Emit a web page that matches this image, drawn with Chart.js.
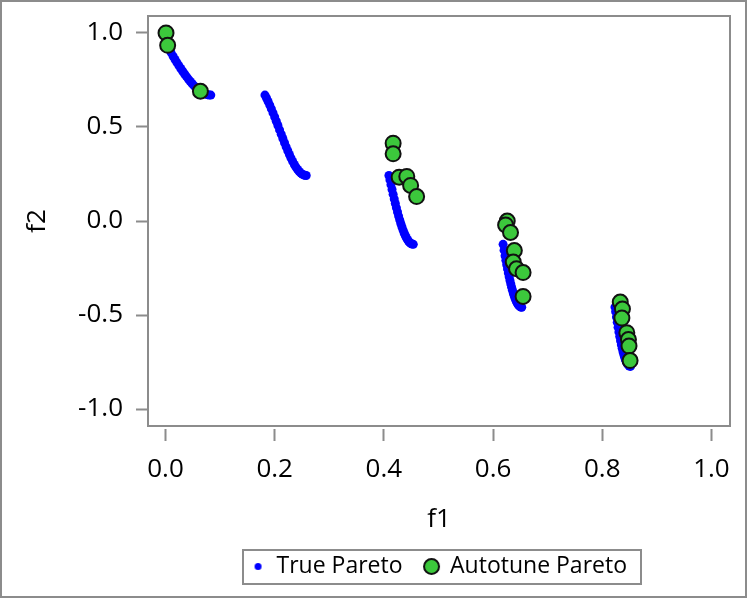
<!DOCTYPE html>
<html>
<head>
<meta charset="utf-8">
<script src="https://cdn.jsdelivr.net/npm/chart.js@4.4.0/dist/chart.umd.min.js"></script>
<style>
  html, body { margin: 0; padding: 0; background: #fff; }
  #wrap { width: 747px; height: 598px; box-sizing: border-box; border: 2px solid #8c8c8c; }
  canvas { display: block; }
</style>
</head>
<body>
<div id="wrap"><canvas id="myChart" width="743" height="594"></canvas></div>
<script>
  // true Pareto front
  var trueF1 = [
    0, 0.002, 0.004, 0.007, 0.010, 0.014, 0.0175, 0.021, 0.0245, 0.028, 0.0315, 0.035, 0.0385, 0.042, 0.0455, 0.049, 0.0525, 0.056, 0.0595, 0.063, 0.0665, 0.070, 0.0735, 0.077, 0.080, 0.083,
    0.1822, 0.185, 0.188, 0.191, 0.194, 0.197, 0.200, 0.203, 0.206, 0.209, 0.212, 0.215, 0.218, 0.221, 0.224, 0.227, 0.230, 0.233, 0.236, 0.239, 0.242, 0.245, 0.248, 0.2505, 0.253, 0.2555, 0.2578,
    0.4093, 0.4111, 0.413, 0.415, 0.417, 0.419, 0.421, 0.423, 0.425, 0.427, 0.429, 0.431, 0.433, 0.435, 0.437, 0.439, 0.441, 0.443, 0.445, 0.447, 0.449, 0.4515, 0.4539,
    0.6184, 0.6202, 0.622, 0.6235, 0.625, 0.6265, 0.628, 0.6295, 0.631, 0.6325, 0.634, 0.6355, 0.637, 0.6385, 0.640, 0.6415, 0.643, 0.6445, 0.646, 0.6475, 0.649, 0.6508, 0.6525,
    0.8233, 0.8245, 0.826, 0.8275, 0.829, 0.8305, 0.832, 0.8335, 0.835, 0.8365, 0.838, 0.8395, 0.841, 0.8425, 0.844, 0.8455, 0.847, 0.8494, 0.8518
  ];
  var trueF2 = [
    1.0, 0.9552, 0.9363, 0.9148, 0.8969, 0.8757, 0.8586, 0.8422, 0.8264, 0.8111, 0.7962, 0.7817, 0.7678, 0.7544, 0.7417, 0.7296, 0.7185, 0.7084, 0.6992, 0.6912, 0.6844, 0.6788, 0.6745, 0.6716, 0.6701, 0.6696,
    0.6693, 0.6539, 0.6356, 0.6163, 0.5959, 0.5747, 0.5528, 0.5303, 0.5075, 0.4845, 0.4616, 0.4387, 0.4163, 0.3944, 0.3734, 0.3533, 0.3343, 0.3168, 0.3007, 0.2862, 0.2737, 0.2630, 0.2545, 0.2490, 0.2451, 0.2428, 0.2422,
    0.2422, 0.2184, 0.1933, 0.1674, 0.1419, 0.1172, 0.0932, 0.0699, 0.0476, 0.0262, 0.0060, -0.0130, -0.0307, -0.0471, -0.0622, -0.0757, -0.0876, -0.0979, -0.1066, -0.1136, -0.1189, -0.1229, -0.1242,
    -0.1241, -0.1552, -0.1852, -0.2092, -0.2325, -0.2549, -0.2764, -0.2968, -0.3163, -0.3346, -0.3518, -0.3679, -0.3827, -0.3963, -0.4087, -0.4197, -0.4294, -0.4376, -0.4446, -0.4502, -0.4543, -0.4573, -0.4583,
    -0.4578, -0.4820, -0.5110, -0.5389, -0.5656, -0.5907, -0.6146, -0.6370, -0.6578, -0.6770, -0.6946, -0.7104, -0.7247, -0.7371, -0.7478, -0.7565, -0.7636, -0.7708, -0.7733
  ];

  // Autotune Pareto points (green circles)
  var autoF1 = [0.001, 0.004, 0.064, 0.417, 0.417, 0.428, 0.442, 0.449, 0.460, 0.626, 0.623, 0.632, 0.639, 0.637, 0.643, 0.655, 0.655, 0.833, 0.837, 0.836, 0.845, 0.848, 0.849, 0.851];
  var autoF2 = [1.0, 0.934, 0.690, 0.414, 0.357, 0.233, 0.237, 0.189, 0.130, 0.0, -0.021, -0.061, -0.157, -0.218, -0.254, -0.274, -0.401, -0.431, -0.468, -0.516, -0.594, -0.630, -0.665, -0.742];

  var xTicks = [0, 0.2, 0.4, 0.6, 0.8, 1.0];
  var yTicks = [-1.0, -0.5, 0, 0.5, 1.0];

  var FONT = '"Open Sans", "Noto Sans", sans-serif';
  var GRAY = '#8c8c8c';

  function toPoints(xs, ys) {
    return xs.map(function(x, i) { return {x: x, y: ys[i]}; });
  }

  function dotImage(r, fill, stroke, lw) {
    var s = Math.ceil(2 * (r + lw)) + 2;
    var c = document.createElement('canvas');
    c.width = s; c.height = s;
    var g = c.getContext('2d');
    g.beginPath();
    g.arc(s / 2, s / 2, r, 0, 2 * Math.PI);
    g.fillStyle = fill;
    g.fill();
    if (lw) { g.lineWidth = lw; g.strokeStyle = stroke; g.stroke(); }
    return c;
  }

  var blueDot = dotImage(3.5, '#0000ff', null, 0);
  var greenDot = dotImage(7.5, '#3cc83c', '#111', 2);

  // box around the plot area and around the legend
  var framePlugin = {
    id: 'frame',
    afterDraw: function(chart) {
      var ctx = chart.ctx, a = chart.chartArea;
      ctx.save();
      ctx.strokeStyle = GRAY;
      ctx.lineWidth = 2;
      ctx.strokeRect(a.left, a.top, a.right - a.left, a.bottom - a.top);

      var lg = chart.legend;
      var P = lg.options.labels.padding;
      var rowW = lg.lineWidths[0] - P;
      var x0 = (lg.left + P + lg.right - lg.lineWidths[0]) / 2;
      var cy = lg.top + P + 12;
      ctx.strokeRect(Math.round(x0 - 8), Math.round(cy - 17), Math.round(rowW + 22), 34);
      ctx.restore();
    }
  };

  var data = {
    datasets: [{
      label: 'Autotune Pareto',
      data: toPoints(autoF1, autoF2),
      pointRadius: 7.5,
      pointBackgroundColor: '#3cc83c',
      pointBorderColor: '#111',
      pointBorderWidth: 2
    }, {
      label: 'True Pareto',
      data: toPoints(trueF1, trueF2),
      pointRadius: 4.5,
      pointBackgroundColor: '#0000ff',
      pointBorderWidth: 0
    }]
  };

  var options = {
    responsive: false,
    animation: false,
    devicePixelRatio: 1,
    layout: { padding: { left: 0, top: 14, right: 15, bottom: 8 } },
    scales: {
      x: {
        type: 'linear',
        min: -0.032,
        max: 1.034,
        afterBuildTicks: function(s) { s.ticks = xTicks.map(function(v) { return {value: v}; }); },
        afterFit: function(s) { s.height = 107; s.paddingLeft = 0; s.paddingRight = 0; },
        ticks: {
          callback: function(v) { return v.toFixed(1); },
          font: { family: FONT, size: 26 },
          color: '#000',
          padding: 13,
          maxRotation: 0,
          autoSkip: false
        },
        grid: { drawOnChartArea: false, drawTicks: true, tickLength: 15, tickColor: GRAY, tickWidth: 2, tickBorderDash: [0, 3, 12, 60] },
        border: { display: false },
        title: { display: true, text: 'f1', color: '#000', font: { family: FONT, size: 26, lineHeight: 1 }, padding: { top: 0, bottom: 0 } }
      },
      y: {
        type: 'linear',
        min: -1.09,
        max: 1.09,
        afterBuildTicks: function(s) { s.ticks = yTicks.map(function(v) { return {value: v}; }); },
        afterFit: function(s) { s.width = 146; s.paddingTop = 0; s.paddingBottom = 0; },
        ticks: {
          callback: function(v) { return v.toFixed(1); },
          font: { family: FONT, size: 26 },
          color: '#000',
          padding: 10,
          autoSkip: false
        },
        grid: { drawOnChartArea: false, drawTicks: true, tickLength: 15, tickColor: GRAY, tickWidth: 2, tickBorderDash: [0, 3, 12, 60] },
        border: { display: false },
        title: { display: true, text: 'f2', color: '#000', font: { family: FONT, size: 26, lineHeight: 1.2 }, padding: { top: 20, bottom: 0 } }
      }
    },
    plugins: {
      tooltip: { enabled: false },
      legend: {
        position: 'bottom',
        fullSize: false,
        labels: {
          usePointStyle: true,
          boxWidth: 14,
          boxHeight: 14,
          padding: 22,
          color: '#000',
          font: { family: FONT, size: 23 },
          generateLabels: function(chart) {
            return [
              { text: 'True Pareto', pointStyle: blueDot, fillStyle: '#0000ff', strokeStyle: '#0000ff', lineWidth: 0, hidden: false, datasetIndex: 1, fontColor: '#000' },
              { text: 'Autotune Pareto', pointStyle: greenDot, fillStyle: '#3cc83c', strokeStyle: '#111', lineWidth: 2, hidden: false, datasetIndex: 0, fontColor: '#000' }
            ];
          }
        }
      }
    }
  };

  var ctx = document.getElementById('myChart').getContext('2d');
  var scatterChart = new Chart(ctx, {
    type: 'scatter',
    data: data,
    options: options,
    plugins: [framePlugin]
  });
</script>
</body>
</html>
